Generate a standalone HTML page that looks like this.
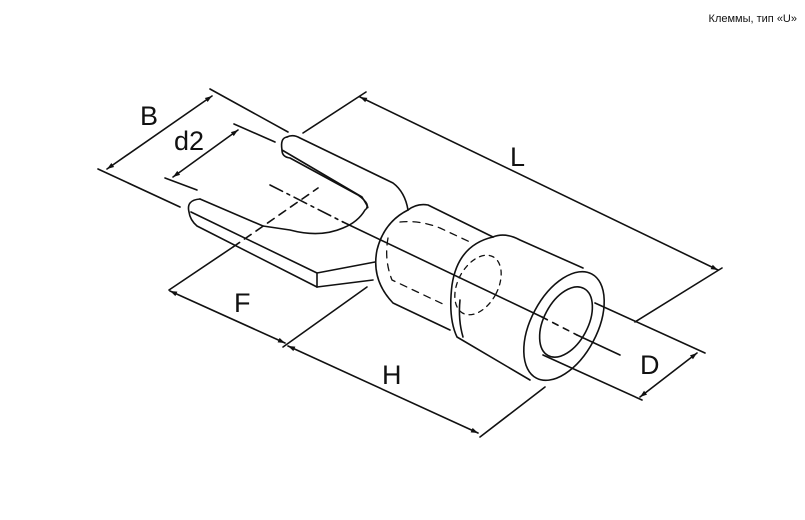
<!DOCTYPE html>
<html><head><meta charset="utf-8"><style>
html,body{margin:0;padding:0;background:#fff;width:805px;height:520px;overflow:hidden}
svg{display:block}
text{font-family:"Liberation Sans",Arial,sans-serif;fill:#111}
</style></head><body>
<svg width="805" height="520" viewBox="0 0 805 520" xmlns="http://www.w3.org/2000/svg">
<defs>
<marker id="a" viewBox="0 0 10 10" refX="10" refY="5" markerWidth="9" markerHeight="7" orient="auto-start-reverse" markerUnits="userSpaceOnUse">
<path d="M0,1.5 L10,5 L0,8.5 z" fill="#111"/></marker>
</defs>
<text x="797" y="22" font-size="11" text-anchor="end">Клеммы, тип «U»</text>
<g stroke="#111" stroke-width="1.6" fill="none" stroke-linecap="round" stroke-linejoin="round">
<!-- B -->
<line x1="98" y1="169" x2="180" y2="207"/>
<line x1="210" y1="89" x2="288" y2="132"/>
<line x1="107" y1="169" x2="212" y2="96" marker-start="url(#a)" marker-end="url(#a)"/>
<!-- d2 -->
<line x1="165" y1="178" x2="197" y2="190"/>
<line x1="234" y1="124" x2="275" y2="142"/>
<line x1="173" y1="177" x2="238" y2="130" marker-start="url(#a)" marker-end="url(#a)"/>
<!-- L -->
<line x1="303" y1="133" x2="366" y2="92"/>
<line x1="360" y1="97" x2="718" y2="270" marker-start="url(#a)" marker-end="url(#a)"/>
<line x1="635" y1="322" x2="722" y2="268"/>
<!-- F -->
<line x1="169" y1="290" x2="233" y2="247"/>
<line x1="233" y1="247" x2="318" y2="188" stroke-dasharray="8 6"/>
<line x1="170" y1="291" x2="285" y2="343" marker-start="url(#a)" marker-end="url(#a)"/>
<line x1="283" y1="347" x2="367" y2="287"/>
<!-- H -->
<line x1="288" y1="346" x2="478" y2="433" marker-start="url(#a)" marker-end="url(#a)"/>
<line x1="480" y1="437" x2="545" y2="387"/>
<!-- D -->
<line x1="595" y1="303" x2="705" y2="353"/>
<line x1="543" y1="355" x2="642" y2="400"/>
<line x1="640" y1="397" x2="697" y2="353" marker-start="url(#a)" marker-end="url(#a)"/>
<!-- centerline -->
<line x1="270" y1="185" x2="343" y2="222" stroke-dasharray="14 5 3 5"/>
<line x1="343" y1="222" x2="542" y2="317"/>
<line x1="542" y1="317" x2="577" y2="335" stroke-dasharray="6 6"/>
<line x1="577" y1="335" x2="620" y2="355"/>
<!-- upper prong -->
<path d="M287 137 Q280 138 282 150 L362 197 Q370 210 367 207"/>
<path d="M287 137 Q293 134 300 138 L393 183 Q405 192 408 210"/>
<path d="M282 150 Q282 157 290 158 L358 195 Q372 205 365 210 Q358 222 343 228 Q320 238 290 230 L263 226"/>
<!-- lower prong -->
<path d="M200 199 L263 226"/>
<path d="M200 199 Q186 200 189 212 Q190 220 197 226 L317 287"/>
<path d="M191 212 L317 273 L317 287"/>
<path d="M317 273 L375 262"/>
<path d="M317 287 L373 280"/>
<!-- small cylinder -->
<path d="M408 210 Q384 222 377 250 Q371 280 393 303 L450 330"/>
<path d="M408 210 Q417 203 428 205 L493 237"/>
<path d="M400 222 Q420 220 440 228 L470 242" stroke-dasharray="7 6" stroke-width="1.3"/>
<path d="M388 238 Q384 260 392 280 L445 305" stroke-dasharray="7 6" stroke-width="1.3"/>
<!-- big cylinder -->
<path d="M493 237 Q458 245 452 285 Q448 318 457 337 L530 380"/>
<path d="M460 300 Q458 320 463 337" />
<path d="M493 237 Q505 232 520 240 L583 268"/>
<ellipse cx="478" cy="285" rx="20" ry="32" transform="rotate(28 478 285)" stroke-dasharray="5 5" stroke-width="1.3"/>
<ellipse cx="564" cy="326" rx="33" ry="59" transform="rotate(28 564 326)"/>
<ellipse cx="566" cy="322" rx="22" ry="38" transform="rotate(28 566 322)"/>
</g>
<g font-size="27">
<text x="140" y="125">B</text>
<text x="174" y="150">d2</text>
<text x="510" y="166">L</text>
<text x="234" y="312">F</text>
<text x="382" y="384">H</text>
<text x="640" y="374">D</text>
</g>
</svg>
</body></html>
